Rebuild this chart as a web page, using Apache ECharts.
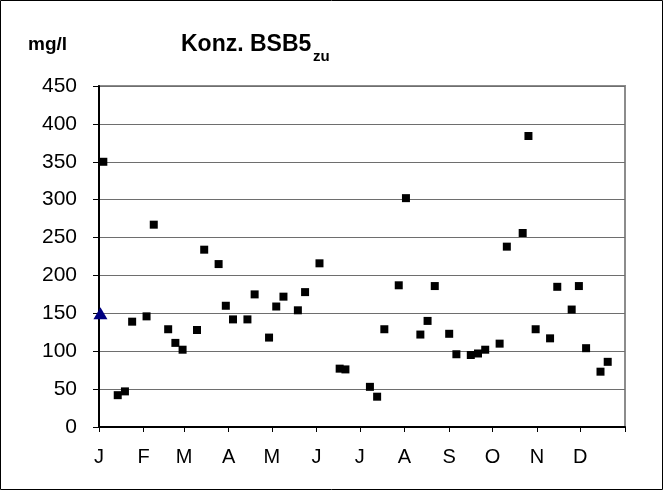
<!DOCTYPE html>
<html>
<head>
<meta charset="utf-8">
<script src="https://cdn.jsdelivr.net/npm/echarts@6/dist/echarts.min.js"></script>
<style>
  html, body { margin: 0; padding: 0; background: #fff; }
  #main { width: 663px; height: 490px; }
</style>
</head>
<body>
<div id="main"></div>
<script>
// day of year (x) and concentration mg/l (y)
var sampleDays = [3, 13, 18, 23, 33, 38, 48, 53, 58, 68, 73, 83, 88, 93, 103, 108, 118, 123, 128, 138, 143, 153, 167, 171, 188, 193, 198, 208, 213, 223, 228, 233, 243, 248, 258, 263, 268, 278, 283, 294, 298, 303, 313, 318, 328, 333, 338, 348, 353];
var sampleValues = [350, 42, 47, 139, 146, 267, 129, 111, 102, 128, 234, 215, 160, 142, 142, 175, 118, 159, 172, 154, 178, 216, 77, 76, 53, 40, 129, 187, 302, 122, 140, 186, 123, 96, 95, 97, 102, 110, 238, 256, 384, 129, 117, 185, 155, 186, 104, 73, 86];
// mean marker
var meanDay = [1];
var meanValue = [150];
var monthStarts = [0, 31, 59, 90, 120, 151, 181, 212, 243, 273, 304, 334, 365];
var monthLabels = ['J', 'F', 'M', 'A', 'M', 'J', 'J', 'A', 'S', 'O', 'N', 'D'];

var chart = echarts.init(document.getElementById('main'));

var points = sampleDays.map(function (d, i) { return [d, sampleValues[i]]; });
var meanPoints = meanDay.map(function (d, i) { return [d, meanValue[i]]; });

var option = {
  animation: false,
  textStyle: { fontFamily: 'Liberation Sans, Arial, sans-serif' },
  graphic: [
    {
      type: 'rect',
      shape: { x: 0.5, y: 0.5, width: 662, height: 489 },
      style: { fill: 'none', stroke: '#000', lineWidth: 1 },
      silent: true
    },
    {
      type: 'text',
      left: 28, top: 35,
      style: { text: 'mg/l', fontSize: 19, fontWeight: 'bold', fill: '#000', fontFamily: 'Liberation Sans, Arial, sans-serif' }
    },
    {
      type: 'text',
      left: 181, top: 33,
      style: { text: 'Konz. BSB5', fontSize: 23, fontWeight: 'bold', fill: '#000', fontFamily: 'Liberation Sans, Arial, sans-serif' }
    },
    {
      type: 'text',
      left: 313, top: 49,
      style: { text: 'zu', fontSize: 15, fontWeight: 'bold', fill: '#000', fontFamily: 'Liberation Sans, Arial, sans-serif' }
    }
  ],
  grid: {
    left: 99, right: 38, top: 86, bottom: 63,
    show: true,
    borderColor: '#8c8c8c',
    borderWidth: 2,
    backgroundColor: '#fff'
  },
  xAxis: {
    type: 'value',
    min: 0,
    max: 365,
    axisLine: { show: true, onZero: false, lineStyle: { color: '#000', width: 2 } },
    axisTick: { show: true, length: 5, customValues: monthStarts, lineStyle: { color: '#000' } },
    axisLabel: {
      customValues: monthStarts.slice(0, 12),
      formatter: function (v) { return monthLabels[monthStarts.indexOf(v)]; },
      fontSize: 20,
      color: '#000',
      margin: 20
    },
    splitLine: { show: false }
  },
  yAxis: {
    type: 'value',
    min: 0,
    max: 450,
    interval: 50,
    axisLine: { show: true, lineStyle: { color: '#000', width: 2 } },
    axisTick: { show: true, length: 6, lineStyle: { color: '#000' } },
    axisLabel: { fontSize: 21, color: '#000', margin: 22 },
    splitLine: { show: true, lineStyle: { color: '#6e6e6e', width: 1 } }
  },
  series: [
    {
      name: 'BSB5',
      type: 'scatter',
      data: points,
      symbol: 'rect',
      symbolSize: 8,
      itemStyle: { color: '#000', opacity: 1 }
    },
    {
      name: 'Mittel',
      type: 'scatter',
      data: meanPoints,
      symbol: 'triangle',
      symbolSize: [14, 12],
      itemStyle: { color: '#000080', opacity: 1 },
      z: 3
    }
  ]
};

chart.setOption(option);
</script>
</body>
</html>
